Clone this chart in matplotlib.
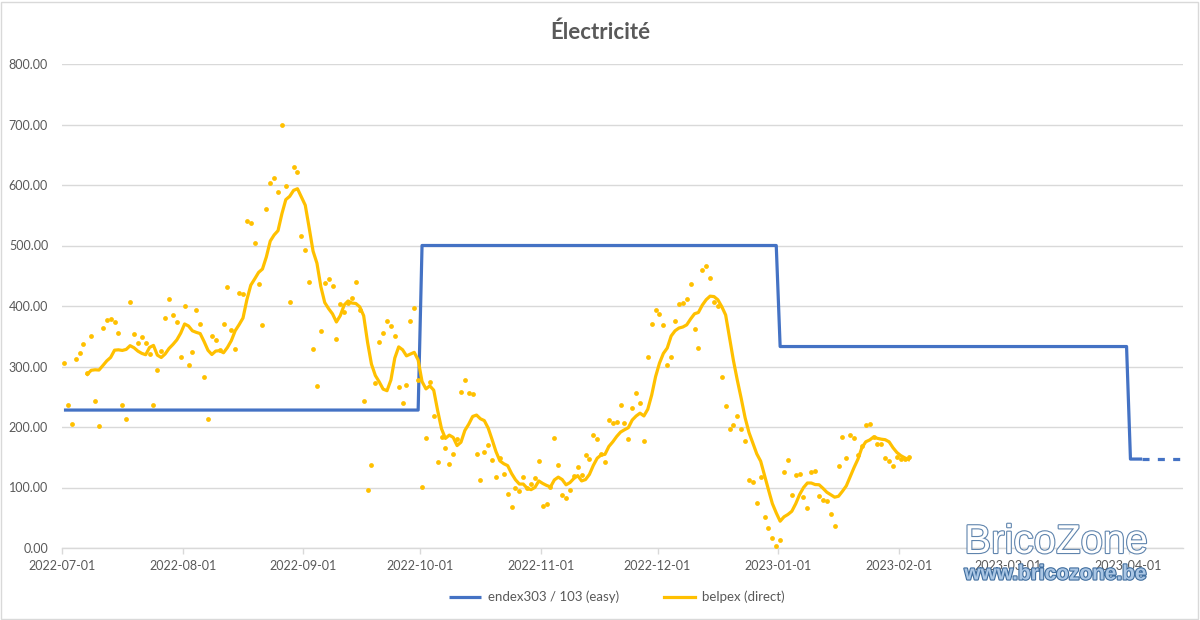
import matplotlib
matplotlib.use("Agg")
import matplotlib.pyplot as plt
import matplotlib.dates as mdates
import matplotlib.patheffects as pe
from matplotlib.patches import Rectangle
import numpy as np
import pandas as pd

# ---------------- data ----------------
belpex_start = "2022-07-01"
belpex = [
    305, 237, 205, 312, 323, 338, 290, 351, 243, 202,
    364, 377, 378, 374, 355, 236, 214, 407, 353, 339,
    348, 339, 321, 237, 294, 326, 380, 412, 385, 374,
    315, 400, 303, 324, 394, 371, 282, 214, 351, 343,
    328, 370, 432, 361, 329, 421, 420, 540, 538, 504,
    436, 369, 561, 603, 611, 588, 700, 599, 407, 630,
    622, 515, 493, 439, 329, 267, 359, 438, 444, 433,
    345, 403, 390, 405, 414, 439, 394, 243, 96, 137,
    273, 340, 355, 376, 367, 350, 266, 240, 269, 376,
    396, 278, 101, 181, 275, 219, 142, 184, 166, 139,
    155, 180, 258, 278, 257, 255, 155, 112, 159, 171,
    145, 118, 148, 122, 90, 68, 99, 95, 118, 100,
    105, 116, 143, 70, 72, 101, 181, 137, 88, 82,
    96, 119, 134, 120, 153, 147, 186, 180, 156, 142,
    211, 206, 209, 237, 207, 180, 231, 257, 239, 177,
    315, 371, 393, 387, 369, 302, 316, 375, 403, 405,
    412, 437, 362, 331, 460, 466, 446, 407, 400, 283,
    234, 196, 203, 218, 196, 177, 112, 109, 74, 118,
    51, 33, 17, 4, 13, 125, 145, 88, 120, 123,
    85, 66, 125, 127, 86, 79, 77, 57, 37, 136,
    184, 149, 187, 182, 154, 169, 204, 205, 183, 172,
    172, 148, 144, 136, 150, 147, 147, 150,
]
ma_period = 7

endex_change_dates = ["2022-07-01", "2022-10-01", "2023-01-01", "2023-04-01"]
endex_values = [228, 500, 333, 147]
endex_end = "2023-04-14"
endex_dashed_from = "2023-04-04"

x_start = "2022-07-01"
x_end = "2023-04-15"
y_ticks = [0, 100, 200, 300, 400, 500, 600, 700, 800]

title = "Électricité"
label_endex = "endex303 / 103 (easy)"
label_belpex = "belpex (direct)"

# ---------------- build series ----------------
half_day = pd.Timedelta(hours=12)
b_dates = pd.date_range(belpex_start, periods=len(belpex), freq="D") + half_day
b_ser = pd.Series(belpex, index=b_dates, dtype=float)
b_ma = b_ser.rolling(ma_period).mean()

e_days = pd.date_range(endex_change_dates[0], endex_end, freq="D")
e_ser = pd.Series(np.nan, index=e_days)
for d, v in zip(endex_change_dates, endex_values):
    e_ser[pd.Timestamp(d)] = v
e_ser = e_ser.ffill()
e_ser.index = e_ser.index + half_day
cut = pd.Timestamp(endex_dashed_from) + half_day
e_solid = e_ser[e_ser.index <= cut]
e_dash = e_ser[e_ser.index >= cut]

# ---------------- style ----------------
BLUE = "#4472C4"
GOLD = "#FFC000"
GRAY_TXT = "#595959"
GRID = "#D9D9D9"
FONT = ["Lato", "DejaVu Sans"]

fig = plt.figure(figsize=(12, 6.2), dpi=100)
ax = fig.add_axes([62 / 1200, 1 - 548 / 620, 1121 / 1200, 484 / 620])

ax.plot(e_solid.index, e_solid.values, color=BLUE, lw=2.3, solid_joinstyle="round",
        solid_capstyle="butt", zorder=3, label=label_endex)
ax.plot(e_dash.index, e_dash.values, color=BLUE, lw=2.3, dashes=(2.2, 2.6),
        dash_capstyle="butt", zorder=3)
ax.scatter(b_ser.index, b_ser.values, s=12, color=GOLD, linewidths=0, zorder=4)
ax.plot(b_ma.index, b_ma.values, color=GOLD, lw=2.3, solid_joinstyle="round",
        zorder=5, label=label_belpex)

ax.set_xlim(pd.Timestamp(x_start), pd.Timestamp(x_end))
ax.set_ylim(y_ticks[0], y_ticks[-1])
ax.set_yticks(y_ticks)
ax.set_yticklabels([f"{v:.2f}" for v in y_ticks])
ax.xaxis.set_major_locator(mdates.MonthLocator(bymonthday=1))
ax.xaxis.set_major_formatter(mdates.DateFormatter("%Y-%m-%d"))

for s in ["top", "right", "left"]:
    ax.spines[s].set_visible(False)
ax.spines["bottom"].set_color(GRID)
ax.spines["bottom"].set_linewidth(1.0)
ax.yaxis.grid(True, color=GRID, lw=1.0)
ax.set_axisbelow(True)
ax.tick_params(axis="y", length=0, pad=10, labelsize=9, labelcolor=GRAY_TXT)
ax.tick_params(axis="x", length=4, width=1, color=GRID, pad=5, labelsize=9,
               labelcolor=GRAY_TXT, direction="out")
for lab in ax.get_xticklabels() + ax.get_yticklabels():
    lab.set_fontfamily(FONT)

fig.text(0.5, 1 - 32 / 620, title, ha="center", va="center", fontsize=16,
         fontweight="bold", color=GRAY_TXT, family=FONT)

leg = fig.legend(loc="center", bbox_to_anchor=(617 / 1200, 1 - 597 / 620), ncol=2,
                 frameon=False, handlelength=2.4, handletextpad=0.5,
                 columnspacing=3.4, prop={"family": FONT, "size": 9.5})
for t in leg.get_texts():
    t.set_color(GRAY_TXT)

# watermark
fig.text(1056 / 1200, 1 - 542 / 620, "BricoZone", ha="center", va="center",
         fontsize=29, color="white", family=["Liberation Sans", "DejaVu Sans"],
         path_effects=[pe.Stroke(linewidth=1.6, foreground="#5f84ad"), pe.Normal()],
         zorder=10)
fig.text(1056 / 1200, 1 - 574 / 620, "www.bricozone.be", ha="center", va="center",
         fontsize=15, fontweight="bold", color="#aac6e4",
         family=["Liberation Sans", "DejaVu Sans"],
         path_effects=[pe.Stroke(linewidth=1.6, foreground="#3f6d9e"), pe.Normal()],
         zorder=10)

# chart border
fig.patches.append(Rectangle((1 / 1200, 1 / 620), 1 - 3 / 1200, 1 - 3 / 620,
                             transform=fig.transFigure, fill=False,
                             edgecolor="#D9D9D9", lw=1.0))

fig.savefig("out.png", dpi=100)
